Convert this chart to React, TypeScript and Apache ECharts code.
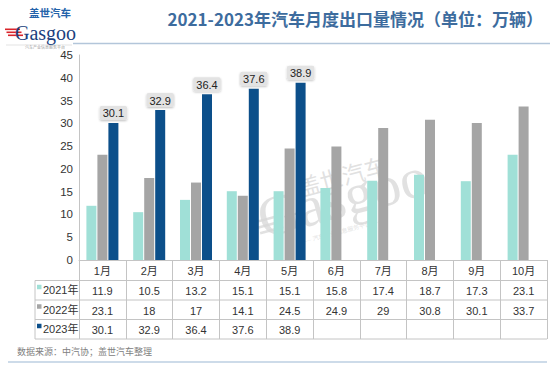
import React, { useEffect, useRef } from "react";
import * as echarts from "echarts";

const months = ["1月", "2月", "3月", "4月", "5月", "6月", "7月", "8月", "9月", "10月"];
const seriesNames = ["2021年", "2022年", "2023年"];
const v2021 = [11.9, 10.5, 13.2, 15.1, 15.1, 15.8, 17.4, 18.7, 17.3, 23.1];
const v2022 = [23.1, 18, 17, 14.1, 24.5, 24.9, 29, 30.8, 30.1, 33.7];
const v2023: (number | null)[] = [30.1, 32.9, 36.4, 37.6, 38.9, null, null, null, null, null];
const colors = ["#a0e0d7", "#a5a5a5", "#0c4f8a"];
const yMin = 0;
const yMax = 45;
const yInterval = 5;

const titleText = "2021-2023年汽车月度出口量情况（单位：万辆）";
const sourceText = "数据来源：中汽协；盖世汽车整理";

const FONT = "'Liberation Sans', Arial, 'Noto Sans CJK SC', sans-serif";
const CJK = "'Noto Sans CJK SC', 'Liberation Sans', sans-serif";

export default function App() {
  const ref = useRef<HTMLDivElement>(null);
  useEffect(() => {
    if (!ref.current) return;
    const chart = echarts.init(ref.current, undefined, { renderer: "svg" });

    const gridLeft = 79;
    const gridRight = 3;
    const gridTop = 55;
    const axisY = 260;
    const rowLines = [280.5, 300, 319.5, 339];
    const tableLeft = 35;
    const tableRight = 550 - gridRight;
    const rowData = [v2021, v2022, v2023];

    const tableAxes = rowData.map((vals, i) => ({
      type: "category",
      gridIndex: 0,
      position: "bottom",
      offset: rowLines[i] - axisY,
      data: vals.map((v) => (v == null ? "" : String(v))),
      axisLine: { show: false },
      axisTick: { show: false },
      axisLabel: { interval: 0, margin: 5, fontSize: 11, color: "#333", fontFamily: FONT },
    }));

    const graphics: any[] = [];
    // header
    graphics.push({
      type: "text",
      right: 7,
      top: 10,
      style: { text: titleText, fontSize: 17, fontWeight: "bold", fill: "#3d6c9e", fontFamily: CJK },
    });
    graphics.push({
      type: "line",
      shape: { x1: 73, y1: 43.5, x2: 550, y2: 43.5 },
      style: { stroke: "#b3c6da", lineWidth: 1.5 },
    });
    graphics.push({
      type: "line",
      shape: { x1: 6, y1: 45, x2: 72, y2: 45 },
      style: { stroke: "#e3e3e3", lineWidth: 1 },
    });
    // logo
    [28.5, 31.5, 34.5].forEach((y, i) => {
      graphics.push({
        type: "rect",
        shape: { x: 5 + i * 1.5, y, width: 15, height: 1.6 },
        style: { fill: "#d9252b" },
      });
    });
    graphics.push({
      type: "text",
      x: 15,
      y: 32.5,
      style: {
        text: "Gasgoo",
        fontSize: 20,
        lineHeight: 14,
        fill: "#1b3f7e",
        fontFamily: "'Liberation Serif', serif",
        verticalAlign: "middle",
      },
    });
    graphics.push({
      type: "text",
      x: 29,
      y: 12.5,
      style: {
        text: "盖世汽车",
        fontSize: 10.5,
        lineHeight: 10,
        fontWeight: "bold",
        fill: "#2463aa",
        fontFamily: CJK,
        verticalAlign: "middle",
      },
    });
    graphics.push({
      type: "text",
      x: 25,
      y: 47,
      style: { text: "汽车产业信息服务平台", fontSize: 4, lineHeight: 4, fill: "#999", fontFamily: CJK, verticalAlign: "middle", backgroundColor: "#fff" },
    });

    // table lines
    rowLines.forEach((y) => {
      graphics.push({
        type: "line",
        shape: { x1: tableLeft, y1: y, x2: tableRight, y2: y },
        style: { stroke: "#c4c4c4", lineWidth: 1 },
      });
    });
    graphics.push({
      type: "line",
      shape: { x1: tableLeft, y1: rowLines[0], x2: tableLeft, y2: rowLines[3] },
      style: { stroke: "#c4c4c4", lineWidth: 1 },
    });
    // row labels
    seriesNames.forEach((name, i) => {
      const cy = (rowLines[i] + rowLines[i + 1]) / 2;
      graphics.push({
        type: "rect",
        shape: { x: 37, y: cy - 5.5, width: 4.5, height: 4.5 },
        style: { fill: colors[i] },
      });
      graphics.push({
        type: "text",
        x: 43,
        y: cy,
        style: { text: name, fontSize: 11, fill: "#333", fontFamily: FONT, verticalAlign: "middle" },
      });
    });
    // source
    graphics.push({
      type: "text",
      x: 17,
      y: 351,
      style: { text: sourceText, fontSize: 9, fill: "#808080", fontFamily: CJK, verticalAlign: "middle" },
    });
    graphics.push({
      type: "line",
      shape: { x1: 8, y1: 362, x2: tableRight, y2: 362 },
      style: { stroke: "#bccfe2", lineWidth: 1.5 },
    });
    // watermark
    const wmFill = "rgba(215,215,215,0.75)";
    graphics.push({
      type: "group",
      x: 262,
      y: 248,
      rotation: 0.26,
      z: 100,
      children: [
        { type: "rect", shape: { x: -2, y: -28, width: 24, height: 2.5 }, style: { fill: wmFill } },
        { type: "rect", shape: { x: 0, y: -22, width: 24, height: 2.5 }, style: { fill: wmFill } },
        { type: "rect", shape: { x: 2, y: -16, width: 24, height: 2.5 }, style: { fill: wmFill } },
        {
          type: "text",
          x: 4,
          y: 0,
          style: { text: "Gasgoo", fontSize: 57, fill: wmFill, fontFamily: "'Liberation Serif', serif", verticalAlign: "bottom" },
        },
        {
          type: "text",
          x: 50,
          y: -38,
          style: { text: "盖世汽车", fontSize: 23, fill: wmFill, fontFamily: CJK, verticalAlign: "bottom" },
        },
        {
          type: "text",
          x: 40,
          y: 4,
          style: { text: "—— 汽车产业信息服务平台 ——", fontSize: 6, fill: wmFill, fontFamily: CJK, verticalAlign: "middle" },
        },
      ],
    });

    const barLabel = {
      show: true,
      position: "top",
      distance: 3,
      formatter: (p: any) => (p.value == null ? "" : String(p.value)),
      fontSize: 11,
      color: "#222",
      fontFamily: FONT,
      backgroundColor: "#e3e3e3",
      borderRadius: 2,
      padding: [2, 3, 1, 3],
      shadowColor: "rgba(0,0,0,0.25)",
      shadowBlur: 2,
      shadowOffsetY: 1,
    };

    chart.setOption({
      animation: false,
      backgroundColor: "#fff",
      grid: { left: gridLeft, right: gridRight, top: gridTop, bottom: 378 - axisY, containLabel: false },
      xAxis: [
        {
          type: "category",
          data: months,
          position: "bottom",
          axisLine: { show: true, lineStyle: { color: "#c4c4c4", width: 1 } },
          axisTick: { show: true, interval: 0, length: rowLines[3] - axisY, lineStyle: { color: "#c4c4c4" } },
          axisLabel: { interval: 0, margin: 5, fontSize: 11, color: "#333", fontFamily: FONT },
        },
        ...tableAxes,
      ],
      yAxis: {
        type: "value",
        min: yMin,
        max: yMax,
        interval: yInterval,
        axisLine: { show: true, lineStyle: { color: "#c4c4c4" } },
        axisTick: { show: false },
        splitLine: { show: false },
        axisLabel: { fontSize: 11.5, color: "#333", fontFamily: FONT, margin: 6 },
      },
      series: [
        {
          name: seriesNames[0],
          type: "bar",
          data: v2021,
          barWidth: 10,
          barGap: "10%",
          itemStyle: { color: colors[0] },
        },
        {
          name: seriesNames[1],
          type: "bar",
          data: v2022,
          barWidth: 10,
          barGap: "10%",
          itemStyle: { color: colors[1] },
        },
        {
          name: seriesNames[2],
          type: "bar",
          data: v2023,
          barWidth: 10,
          barGap: "10%",
          itemStyle: { color: colors[2] },
          label: barLabel,
        },
      ],
      graphic: graphics,
    });
    return () => chart.dispose();
  }, []);
  return <div ref={ref} style={{ position: "fixed", left: 0, top: 0, width: 550, height: 378 }} />;
}
